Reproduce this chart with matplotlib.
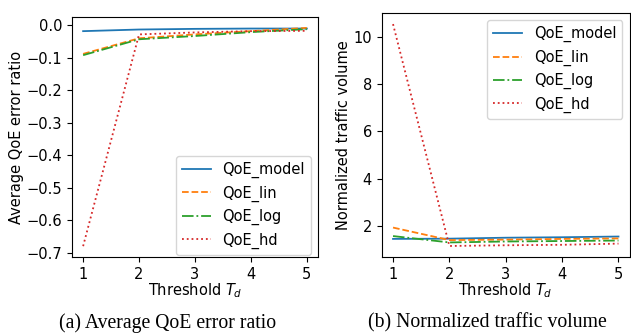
import matplotlib.pyplot as plt

thresholds = [1, 2, 3, 4, 5]
labels = ['QoE_model', 'QoE_lin', 'QoE_log', 'QoE_hd']

err_model = [-0.018, -0.013, -0.011, -0.010, -0.010]
err_lin = [-0.088, -0.040, -0.028, -0.018, -0.008]
err_log = [-0.092, -0.043, -0.033, -0.021, -0.012]
err_hd = [-0.680, -0.028, -0.022, -0.018, -0.017]

vol_model = [1.45, 1.46, 1.50, 1.52, 1.55]
vol_lin = [1.93, 1.40, 1.42, 1.45, 1.47]
vol_log = [1.57, 1.30, 1.34, 1.36, 1.38]
vol_hd = [10.55, 1.15, 1.18, 1.20, 1.25]

plt.rcParams['font.size'] = 10.5
styles = ['-', '--', '-.', ':']
colors = ['#1f77b4', '#ff7f0e', '#2ca02c', '#d62728']

fig = plt.figure(figsize=(6.31, 3.33), dpi=100)
ax1 = fig.add_axes([0.114, 0.228, 0.39, 0.721])
ax2 = fig.add_axes([0.605, 0.228, 0.393, 0.733])

for ys, st, c, lb in zip([err_model, err_lin, err_log, err_hd], styles, colors, labels):
    ax1.plot(thresholds, ys, linestyle=st, color=c, label=lb, linewidth=1.3)
for ys, st, c, lb in zip([vol_model, vol_lin, vol_log, vol_hd], styles, colors, labels):
    ax2.plot(thresholds, ys, linestyle=st, color=c, label=lb, linewidth=1.3)

ax1.set_xticks(thresholds)
ax2.set_xticks(thresholds)
ax1.set_xlabel('Threshold $T_d$', labelpad=0)
ax2.set_xlabel('Threshold $T_d$', labelpad=0)
ax1.set_ylabel('Average QoE error ratio', labelpad=2)
ax2.set_ylabel('Normalized traffic volume', labelpad=2)
ax1.legend(loc='lower right', bbox_to_anchor=(1, -0.02))
ax2.legend(loc='upper right')

fig.text(0.265, 0.016, '(a) Average QoE error ratio', ha='center', va='baseline',
         family='Liberation Serif', fontsize=14.2)
fig.text(0.773, 0.016, '(b) Normalized traffic volume', ha='center', va='baseline',
         family='Liberation Serif', fontsize=14.2)

fig.savefig('out.png', dpi=100)
